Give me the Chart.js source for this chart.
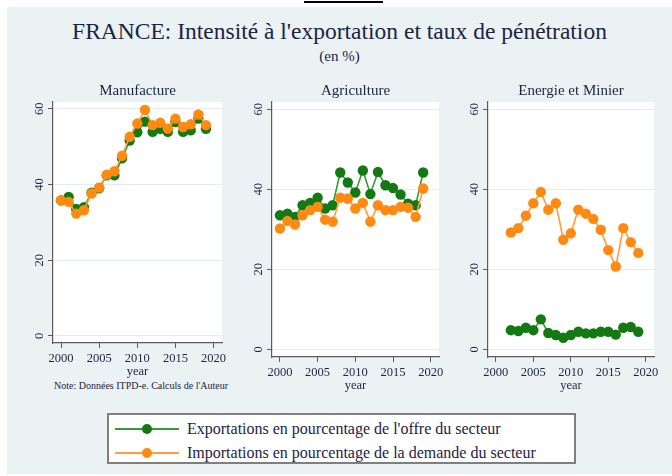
<!DOCTYPE html>
<html>
<head>
<meta charset="utf-8">
<script src="https://cdn.jsdelivr.net/npm/chart.js@4.4.1/dist/chart.umd.min.js"></script>
<style>
  html, body { margin: 0; padding: 0; background: #ffffff; }
  body { width: 672px; height: 476px; position: relative; overflow: hidden; font-family: "Liberation Serif", "DejaVu Serif", serif; }
  #bg { position: absolute; left: 7px; top: 7px; width: 665px; height: 467px; background: #eaf2f3; }
  #topline { position: absolute; left: 304px; top: 1px; width: 79px; height: 2px; background: #000; }
  #title { position: absolute; left: 7px; width: 665px; top: 17px; text-align: center; font-size: 23.5px; color: #1c2444; line-height: 28px; }
  #subtitle { position: absolute; left: 7px; width: 665px; top: 47px; text-align: center; font-size: 15px; color: #1c2444; line-height: 18px; }
  canvas { position: absolute; }
  #note { position: absolute; left: 54px; top: 380px; font-size: 10px; color: #1c2444; line-height: 12px; white-space: nowrap; }
  #legend { position: absolute; left: 107px; top: 413px; width: 469px; height: 51px; background: #fff; border: 2px solid #7f7f7f; box-sizing: border-box; }
  .item { position: absolute; left: 6px; height: 20px; font-size: 16px; color: #1c2444; line-height: 20px; white-space: nowrap; }
  .item svg { position: absolute; left: 0; top: 0; }
  .item span { position: absolute; left: 72px; top: 0; }
</style>
</head>
<body>
<div id="bg"></div>
<div id="topline"></div>
<div id="title">FRANCE: Intensité à l'exportation et taux de pénétration</div>
<div id="subtitle">(en %)</div>

<canvas id="c1" width="210" height="301" style="left:22px; top:78px; width:210px; height:301px;"></canvas>
<canvas id="c2" width="208" height="315" style="left:241px; top:78px; width:208px; height:315px;"></canvas>
<canvas id="c3" width="207" height="315" style="left:457px; top:78px; width:207px; height:315px;"></canvas>

<div id="note">Note: Données ITPD-e. Calculs de l'Auteur</div>

<div id="legend">
  <div class="item" style="top:4px;">
    <svg width="70" height="20"><line x1="0" y1="10" x2="64" y2="10" stroke="#3a9a3a" stroke-width="2"/><circle cx="32" cy="10" r="5" fill="#137a13"/></svg>
    <span>Exportations en pourcentage de l'offre du secteur</span>
  </div>
  <div class="item" style="top:28px;">
    <svg width="70" height="20"><line x1="0" y1="10" x2="64" y2="10" stroke="#ff9d3f" stroke-width="2"/><circle cx="32" cy="10" r="5" fill="#ff8a12"/></svg>
    <span>Importations en pourcentage de la demande du secteur</span>
  </div>
</div>

<script>
// ---- Data ----
const yearsFull = [2000,2001,2002,2003,2004,2005,2006,2007,2008,2009,2010,2011,2012,2013,2014,2015,2016,2017,2018,2019];
const yearsEnergy = [2002,2003,2004,2005,2006,2007,2008,2009,2010,2011,2012,2013,2014,2015,2016,2017,2018,2019];

const manufExport = [35.8,36.7,33.5,34.0,37.8,39.0,42.4,42.4,46.9,51.6,53.8,56.6,53.9,54.7,53.9,56.5,53.9,54.3,57.4,54.7];
const manufImport = [35.8,35.4,32.3,33.2,37.6,39.2,42.6,43.5,47.6,52.6,56.1,59.7,55.7,56.3,54.8,57.4,55.2,55.9,58.5,55.7];

const agriExport = [33.5,33.9,33.1,36.0,36.6,37.9,35.2,36.0,44.2,41.7,39.2,44.7,38.8,44.3,41.0,40.3,38.7,36.4,36.0,44.2];
const agriImport = [30.2,32.1,31.2,33.5,34.8,35.6,32.4,31.9,37.9,37.7,35.2,36.6,31.9,36.0,34.8,34.8,35.6,35.4,33.1,40.2];

const energyExport = [4.8,4.6,5.4,4.8,7.5,4.1,3.6,2.9,3.6,4.4,4.0,4.0,4.4,4.4,3.7,5.4,5.6,4.4];
const energyImport = [29.2,30.3,33.4,36.5,39.3,34.9,36.5,27.4,29.0,34.9,33.9,32.6,29.9,24.8,20.7,30.3,26.8,24.1];

const yTicks = [0, 20, 40, 60];
const xTicks = [2000, 2005, 2010, 2015, 2020];
const panelTitles = ['Manufacture', 'Agriculture', 'Energie et Minier'];
const seriesLabels = ["Exportations en pourcentage de l'offre du secteur", "Importations en pourcentage de la demande du secteur"];

// ---- Styles ----
const GREEN_LINE = '#3a9a3a', GREEN_PT = '#137a13';
const ORANGE_LINE = '#ff9d3f', ORANGE_PT = '#ff8a12';
const TEXT = '#1c2444';
const AXIS = '#5a5a5a';
const GRID = '#e3edf0';
const FONT = '"Liberation Serif", "DejaVu Serif", serif';

const whiteArea = {
  id: 'whiteArea',
  beforeDraw(chart) {
    const {ctx, chartArea: a} = chart;
    ctx.save();
    ctx.fillStyle = '#ffffff';
    ctx.fillRect(a.left, a.top, a.right - a.left, a.bottom - a.top);
    ctx.restore();
  }
};

function pairs(xs, ys) { return xs.map((x, i) => ({x: x, y: ys[i]})); }

function makeChart(id, title, xs, exp, imp) {
  return new Chart(document.getElementById(id), {
    type: 'line',
    data: {
      datasets: [
        { label: seriesLabels[0], data: pairs(xs, exp), borderColor: GREEN_LINE, backgroundColor: GREEN_PT,
          pointBackgroundColor: GREEN_PT, pointBorderColor: GREEN_PT, pointRadius: 5.2, pointBorderWidth: 0,
          borderWidth: 1.6, tension: 0, order: 1 },
        { label: seriesLabels[1], data: pairs(xs, imp), borderColor: ORANGE_LINE, backgroundColor: ORANGE_PT,
          pointBackgroundColor: ORANGE_PT, pointBorderColor: ORANGE_PT, pointRadius: 5.2, pointBorderWidth: 0,
          borderWidth: 1.6, tension: 0, order: 0 }
      ]
    },
    options: {
      responsive: false,
      animation: false,
      devicePixelRatio: 1,
      layout: { padding: { left: 0, right: 10, top: 0, bottom: 0 } },
      plugins: {
        legend: { display: false },
        tooltip: { enabled: false },
        title: { display: true, text: title, fullSize: false, color: TEXT,
                 font: { family: FONT, size: 15, weight: 'normal', lineHeight: 1.2 },
                 padding: { top: 4, bottom: 2 } }
      },
      scales: {
        x: {
          type: 'linear', min: 1998.95, max: 2021.1,
          afterBuildTicks(s) { s.ticks = xTicks.map(v => ({value: v})); },
          afterFit(s) { s.height = 36; },
          grid: { display: true, drawOnChartArea: false, drawTicks: true, tickLength: 5, tickColor: AXIS, tickWidth: 1 },
          border: { display: true, color: AXIS, width: 1.2 },
          ticks: { color: TEXT, font: { family: FONT, size: 12.5, lineHeight: 1.2 }, padding: 3, maxRotation: 0, minRotation: 0,
                   callback: v => String(v) },
          title: { display: true, text: 'year', color: TEXT, font: { family: FONT, size: 12.5, lineHeight: 1.2 }, padding: { top: 0, bottom: 0 } }
        },
        y: {
          type: 'linear', min: -1.9, max: 61.8,
          afterBuildTicks(s) { s.ticks = yTicks.map(v => ({value: v})); },
          afterFit(s) { s.width = 31; },
          grid: { display: true, color: GRID, lineWidth: 1, drawTicks: true, tickLength: 5, tickColor: AXIS, tickWidth: 1 },
          border: { display: true, color: AXIS, width: 1.2 },
          ticks: { color: TEXT, font: { family: FONT, size: 12.5, lineHeight: 1.2 }, padding: 2,
                   minRotation: 90, maxRotation: 90, crossAlign: 'center', callback: v => String(v) }
        }
      }
    },
    plugins: [whiteArea]
  });
}

makeChart('c1', panelTitles[0], yearsFull, manufExport, manufImport);
makeChart('c2', panelTitles[1], yearsFull, agriExport, agriImport);
makeChart('c3', panelTitles[2], yearsEnergy, energyExport, energyImport);
</script>
</body>
</html>
